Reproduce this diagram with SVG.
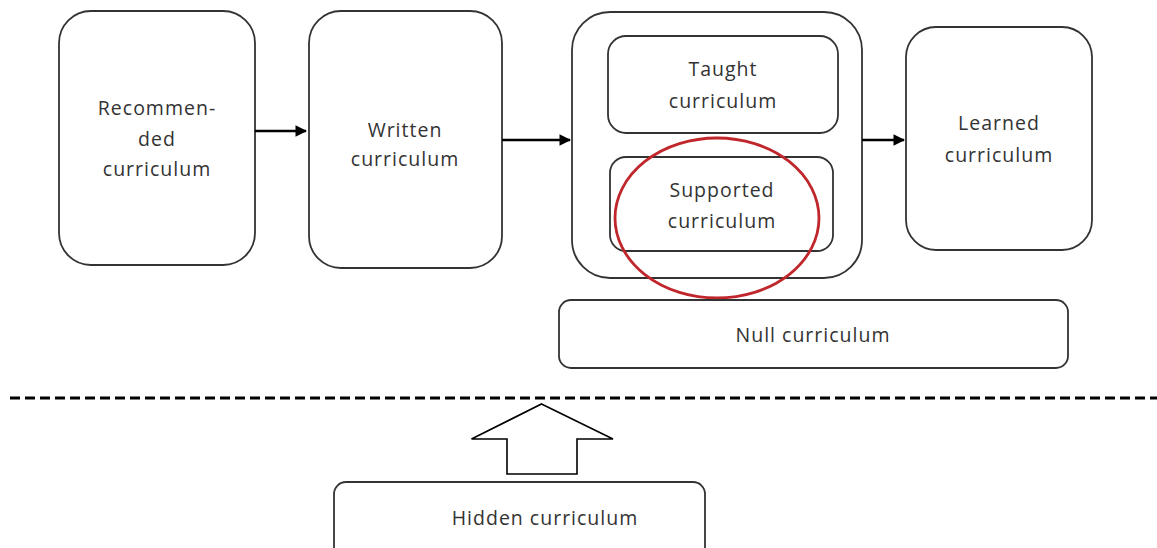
<svg xmlns="http://www.w3.org/2000/svg" width="1157" height="548" viewBox="0 0 1157 548">
<defs>
<style>
.box{fill:#fff;stroke:#333;stroke-width:1.8}
.t{font-family:"Open Sans","Noto Sans",sans-serif;font-size:19.5px;letter-spacing:1px;fill:#333;text-anchor:middle}
.conn{stroke:#000;stroke-width:2.6;fill:none}
</style>
<marker id="ah" viewBox="0 0 10 10" refX="9" refY="5" markerWidth="4.5" markerHeight="4.5" orient="auto" markerUnits="strokeWidth">
<path d="M0,0 L10,5 L0,10 Z" fill="#000"/>
</marker>
</defs>
<rect width="1157" height="548" fill="#fff"/>
<g id="recommended">
<rect class="box" x="59" y="11" width="196" height="254" rx="32"/>
<text class="t" x="157" y="115">Recommen-</text>
<text class="t" x="157" y="146">ded</text>
<text class="t" x="157" y="176">curriculum</text>
</g>
<g id="written">
<rect class="box" x="309" y="11" width="193" height="257" rx="32"/>
<text class="t" x="405" y="137">Written</text>
<text class="t" x="405" y="166">curriculum</text>
</g>
<g id="implemented">
<rect class="box" x="572" y="12" width="290" height="266" rx="38"/>
</g>
<g id="taught">
<rect class="box" x="608" y="36" width="230" height="97" rx="18"/>
<text class="t" x="723" y="76">Taught</text>
<text class="t" x="723" y="108">curriculum</text>
</g>
<g id="supported">
<rect class="box" x="610" y="157" width="223" height="94" rx="16"/>
<text class="t" x="722" y="197">Supported</text>
<text class="t" x="722" y="228">curriculum</text>
</g>
<g id="highlight">
<ellipse cx="717" cy="218" rx="102" ry="80" fill="none" stroke="#c0272d" stroke-width="2.8"/>
</g>
<g id="learned">
<rect class="box" x="906" y="27" width="186" height="223" rx="30"/>
<text class="t" x="999" y="130">Learned</text>
<text class="t" x="999" y="162">curriculum</text>
</g>
<g id="null">
<rect class="box" x="559" y="300" width="509" height="68" rx="12"/>
<text class="t" x="813" y="342">Null curriculum</text>
</g>
<g id="hidden">
<rect class="box" x="334" y="482" width="371" height="90" rx="12"/>
<text class="t" x="545" y="525">Hidden curriculum</text>
</g>
<g id="connectors">
<line class="conn" x1="255" y1="131" x2="306" y2="131" marker-end="url(#ah)"/>
<line class="conn" x1="502" y1="140" x2="570" y2="140" marker-end="url(#ah)"/>
<line class="conn" x1="862" y1="140" x2="904" y2="140" marker-end="url(#ah)"/>
<line x1="10" y1="398" x2="1157" y2="398" stroke="#000" stroke-width="3" stroke-dasharray="10 5"/>
<path d="M541.5,404 L613,439 L577,439 L577,474 L507,474 L507,439 L471.5,439 Z" fill="#fff" stroke="#000" stroke-width="1.6" stroke-linejoin="miter"/>
</g>
</svg>
